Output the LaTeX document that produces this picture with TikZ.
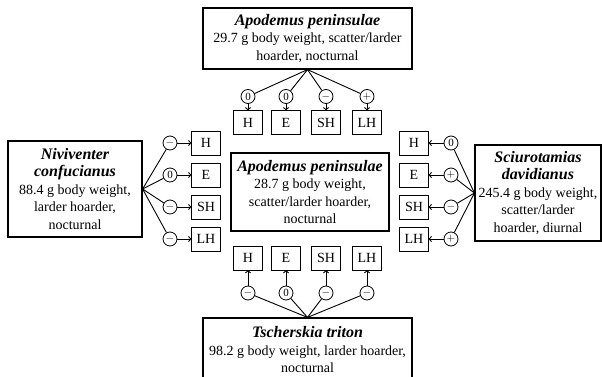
\documentclass[tikz,border=0pt]{standalone}
\usepackage{fontspec}
\setmainfont{Liberation Serif}
\usetikzlibrary{arrows.meta}
\tikzset{
  species/.style={draw, line width=1.2pt, align=center, inner sep=1pt, font=\fontsize{14}{17.5}\selectfont},
  trait/.style={draw, line width=0.7pt, minimum width=29pt, minimum height=24pt, inner sep=1pt, font=\fontsize{14}{16}\selectfont},
  effect/.style={draw, circle, line width=0.8pt, minimum size=14pt, inner sep=0pt, font=\fontsize{11}{11}\selectfont},
  link/.style={line width=0.9pt},
  hit/.style={line width=0.9pt, -{To[length=3pt,width=6pt]}}
}
\newcommand{\spname}[1]{{\fontsize{16}{17.5}\selectfont\bfseries\itshape #1}}
\begin{document}
\begin{tikzpicture}[x=1pt,y=-1pt]
  \useasboundingbox (0,0) rectangle (602,377);
  % species boxes
  \node[species, minimum width=209pt, minimum height=61pt] (top) at (307.5,38.5)
    {\spname{Apodemus peninsulae}\\29.7 g body weight, scatter/larder\\hoarder, nocturnal};
  \node[species, minimum width=134pt, minimum height=96pt] (left) at (75,189)
    {\spname{Niviventer}\\\spname{confucianus}\\88.4 g body weight,\\larder hoarder,\\nocturnal};
  \node[species, minimum width=158pt, minimum height=78pt] (mid) at (310,192)
    {\spname{Apodemus peninsulae}\\28.7 g body weight,\\scatter/larder hoarder,\\nocturnal};
  \node[species, minimum width=126pt, minimum height=96pt] (right) at (538,193)
    {\spname{Sciurotamias}\\\spname{davidianus}\\245.4 g body weight,\\scatter/larder\\hoarder, diurnal};
  \node[species, minimum width=209pt, minimum height=64pt] (bot) at (307.5,350)
    {\spname{Tscherskia triton}\\98.2 g body weight, larder hoarder,\\nocturnal};
  % top row
  \foreach \n/\lab/\x/\s in {h/H/248/0, e/E/286/0, sh/SH/326/$-$, lh/LH/367/$+$} {
    \node[trait] (top-\n) at (\x,122.5) {\lab};
    \node[effect] (top-\n-c) at (\x,96.5) {\s};
    \draw[link] (top.south) -- (top-\n-c);
    \draw[hit] (top-\n-c) -- (top-\n);
  }
  % bottom row
  \foreach \n/\lab/\x/\s in {h/H/248/$-$, e/E/286/0, sh/SH/326/$-$, lh/LH/367/$-$} {
    \node[trait] (bot-\n) at (\x,258) {\lab};
    \node[effect] (bot-\n-c) at (\x,293) {\s};
    \draw[link] (bot.north) -- (bot-\n-c);
    \draw[hit] (bot-\n-c) -- (bot-\n);
  }
  % left column
  \foreach \n/\lab/\y/\s in {h/H/143/$-$, e/E/175/0, sh/SH/207/$-$, lh/LH/239/$-$} {
    \node[trait] (left-\n) at (206,\y) {\lab};
    \node[effect] (left-\n-c) at (170,\y) {\s};
    \draw[link] (left.east) -- (left-\n-c);
    \draw[hit] (left-\n-c) -- (left-\n);
  }
  % right column
  \foreach \n/\lab/\y/\s in {h/H/143/0, e/E/175/$+$, sh/SH/207/$-$, lh/LH/239/$+$} {
    \node[trait] (right-\n) at (414,\y) {\lab};
    \node[effect] (right-\n-c) at (451,\y) {\s};
    \draw[link] (right.west) -- (right-\n-c);
    \draw[hit] (right-\n-c) -- (right-\n);
  }
\end{tikzpicture}
\end{document}
